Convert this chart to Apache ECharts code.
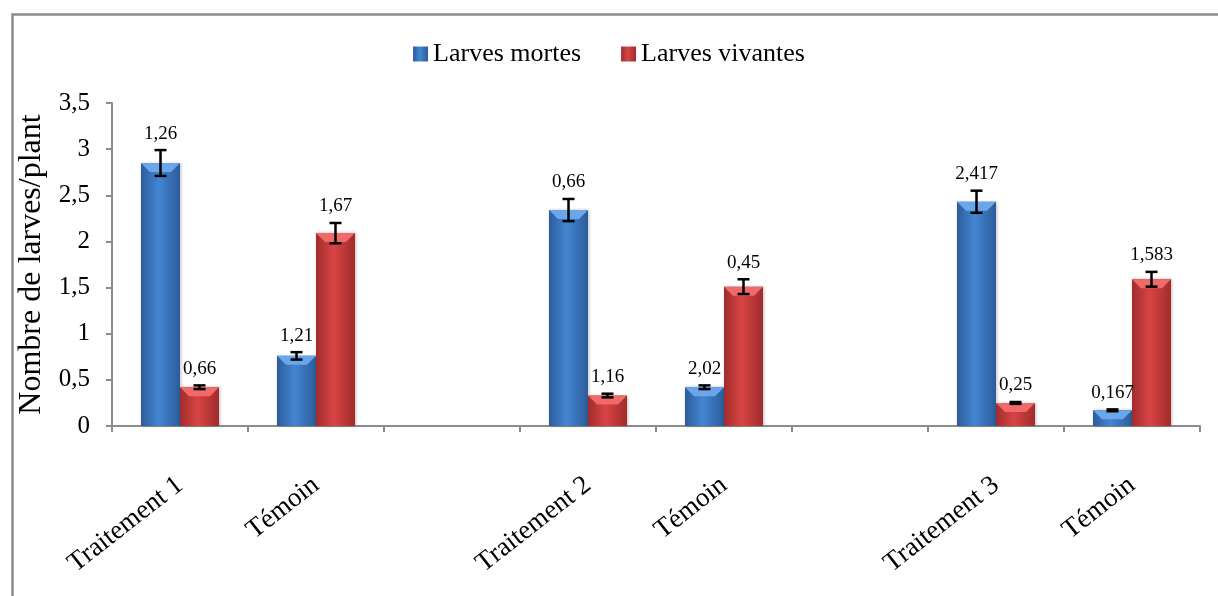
<!DOCTYPE html>
<html>
<head>
<meta charset="utf-8">
<script src="https://cdn.jsdelivr.net/npm/echarts@6/dist/echarts.min.js"></script>
<style>
  html, body { margin: 0; padding: 0; background: #fff; }
  #chart { width: 1218px; height: 596px; }
</style>
</head>
<body>
<div id="chart"></div>
<script>
var categories = ['Traitement 1', 'Témoin', '', 'Traitement 2', 'Témoin', '', 'Traitement 3', 'Témoin'];
var mortes = [2.85, 0.76, null, 2.34, 0.42, null, 2.43, 0.17];
var vivantes = [0.42, 2.09, null, 0.33, 1.51, null, 0.25, 1.59];
var mortesErr = [0.14, 0.04, null, 0.12, 0.02, null, 0.12, 0.01];
var vivantesErr = [0.02, 0.11, null, 0.02, 0.08, null, 0.01, 0.08];
var mortesLabels = ['1,26', '1,21', '', '0,66', '2,02', '', '2,417', '0,167'];
var vivantesLabels = ['0,66', '1,67', '', '1,16', '0,45', '', '0,25', '1,583'];

var serif = '"Liberation Serif", "Times New Roman", serif';
var BAR_W = 39;

function sideGrad(dark, mid) {
  return {
    type: 'linear', x: 0, y: 0, x2: 1, y2: 0,
    colorStops: [
      { offset: 0, color: dark },
      { offset: 0.45, color: mid },
      { offset: 1, color: dark }
    ]
  };
}

function rows(vals, errs) {
  var out = [];
  for (var i = 0; i < vals.length; i++) {
    if (vals[i] != null) out.push([i, vals[i], errs[i]]);
  }
  return out;
}

// error bar + bevel top + value text, drawn at the bar centre
function errRender(offset, labels, bevel) {
  return function (params, api) {
    var i = api.value(0), v = api.value(1), e = api.value(2);
    var top = api.coord([i, v]);
    var x = top[0] + offset;
    var base = api.coord([i, 0])[1];
    var hi = api.coord([i, v + e])[1];
    var lo = api.coord([i, v - e])[1];
    var h = Math.min(9, base - top[1]);
    var half = BAR_W / 2;
    var ln = { stroke: '#000', lineWidth: 2.5 };
    return {
      type: 'group',
      children: [
        { type: 'polygon', shape: { points: [[x - half, top[1]], [x + half, top[1]], [x + half - h, top[1] + h], [x - half + h, top[1] + h]] }, style: { fill: bevel } },
        { type: 'line', shape: { x1: x, y1: hi, x2: x, y2: lo }, style: ln },
        { type: 'line', shape: { x1: x - 6, y1: hi, x2: x + 6, y2: hi }, style: ln },
        { type: 'line', shape: { x1: x - 6, y1: lo, x2: x + 6, y2: lo }, style: ln },
        { type: 'text', x: x, y: hi - 7, style: { text: labels[i], fill: '#000', font: '19px ' + serif, align: 'center', verticalAlign: 'bottom' } }
      ]
    };
  };
}

var myChart = echarts.init(document.getElementById('chart'));
var option = {
  backgroundColor: '#fff',
  animation: false,
  graphic: [{
    type: 'rect', left: 10, top: 12, z: -1,
    shape: { width: 1300, height: 700 },
    style: { fill: 'none', stroke: '#8c8c8c', lineWidth: 2.5 }
  }],
  legend: {
    top: 36,
    left: 'center',
    icon: 'rect',
    itemWidth: 15,
    itemHeight: 15,
    itemGap: 40,
    data: ['Larves mortes', 'Larves vivantes'],
    textStyle: { fontFamily: serif, fontSize: 26, color: '#000' }
  },
  grid: { left: 112, right: 18, top: 103, bottom: 170 },
  xAxis: {
    type: 'category',
    data: categories,
    axisLine: { lineStyle: { color: '#8c8c8c', width: 2 } },
    axisTick: { show: true, length: 6, lineStyle: { color: '#8c8c8c', width: 2 } },
    axisLabel: { rotate: 38, margin: 56, fontFamily: serif, fontSize: 27, color: '#000', interval: 0 }
  },
  yAxis: {
    type: 'value',
    min: 0, max: 3.5, interval: 0.5,
    name: 'Nombre de larves/plant',
    nameLocation: 'middle',
    nameGap: 58,
    nameTextStyle: { fontFamily: serif, fontSize: 32, color: '#000' },
    axisLine: { show: true, lineStyle: { color: '#8c8c8c', width: 2 } },
    axisTick: { show: true, length: 6, lineStyle: { color: '#8c8c8c', width: 2 } },
    splitLine: { show: false },
    axisLabel: {
      fontFamily: serif, fontSize: 25, color: '#000', margin: 22,
      formatter: function (v) { return String(v).replace('.', ','); }
    }
  },
  series: [
    {
      name: 'Larves mortes', type: 'bar', barWidth: BAR_W, barGap: '0%',
      data: mortes,
      itemStyle: { color: sideGrad('#2c5c9a', '#4385d3'), shadowColor: 'rgba(0,0,0,0.25)', shadowBlur: 3, shadowOffsetX: 1 }
    },
    {
      name: 'Larves vivantes', type: 'bar', barWidth: BAR_W, barGap: '0%',
      data: vivantes,
      itemStyle: { color: sideGrad('#a12c2c', '#d84444'), shadowColor: 'rgba(0,0,0,0.25)', shadowBlur: 3, shadowOffsetX: 1 }
    },
    {
      type: 'custom', silent: true, z: 5,
      renderItem: errRender(-BAR_W / 2, mortesLabels, '#6aa6ea'),
      data: rows(mortes, mortesErr)
    },
    {
      type: 'custom', silent: true, z: 5,
      renderItem: errRender(BAR_W / 2, vivantesLabels, '#f06a6a'),
      data: rows(vivantes, vivantesErr)
    }
  ]
};
myChart.setOption(option);
</script>
</body>
</html>
